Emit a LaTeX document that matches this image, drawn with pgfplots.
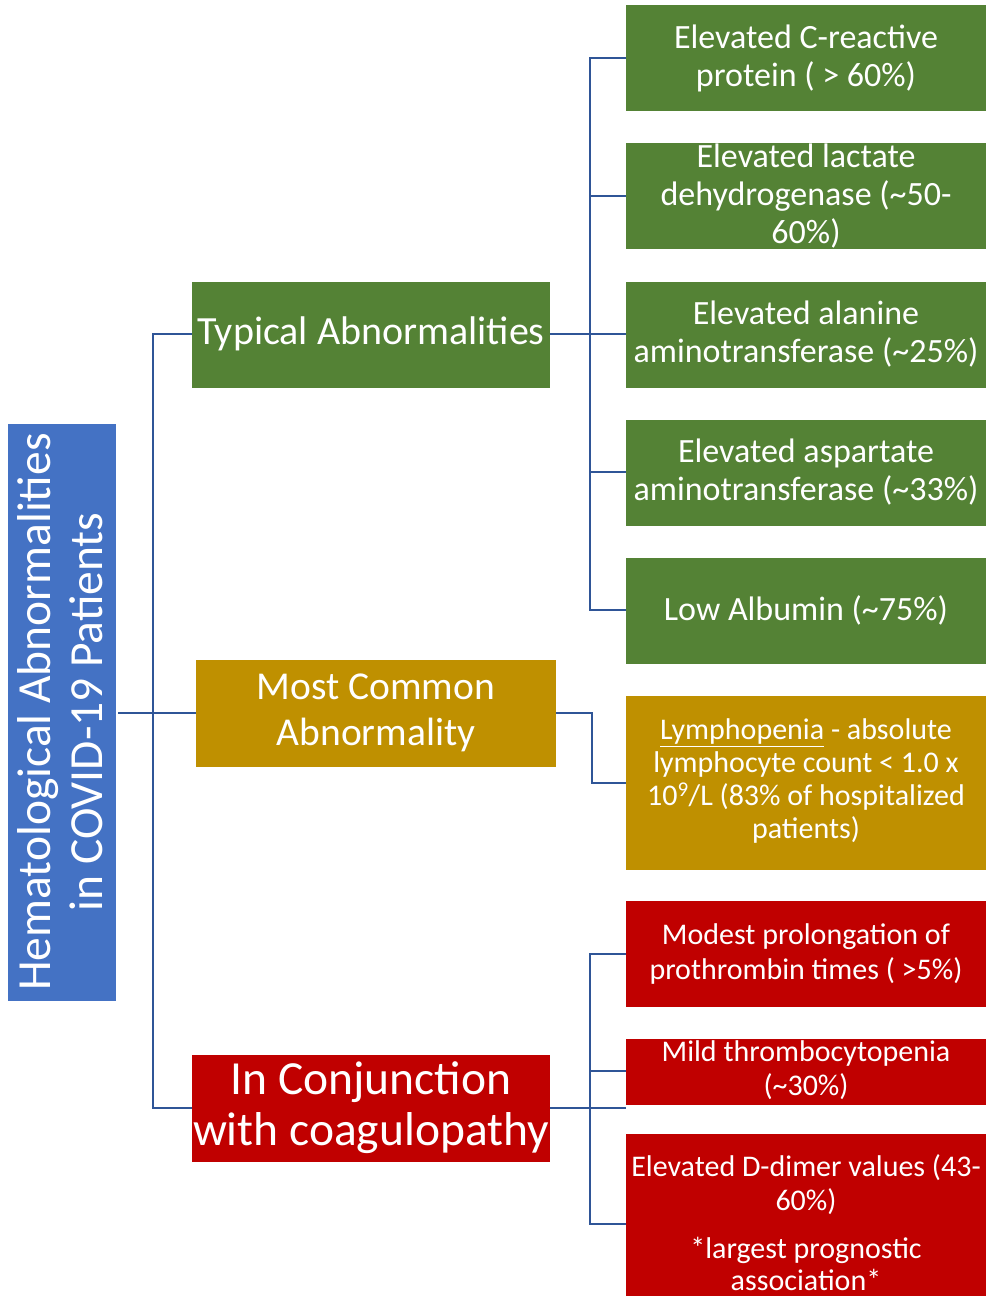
\documentclass[border=0pt]{standalone}
\usepackage{pgfplots}
\pgfplotsset{compat=1.18}
\usepackage{fontspec}
\setmainfont{Carlito}
\definecolor{tgreen}{HTML}{548235}
\definecolor{tgold}{HTML}{BF9000}
\definecolor{tred}{HTML}{C00000}
\definecolor{tblue}{HTML}{4472C4}
\definecolor{tline}{HTML}{2F5597}
\newcommand{\bx}[5]{\addplot[fill=#5, draw=none] coordinates {(#1,#2) (#3,#2) (#3,#4) (#1,#4)} -- cycle;}
\newcommand{\fs}[2]{\fontsize{#1}{#2}\selectfont}
\begin{document}
\begin{tikzpicture}
\begin{axis}[hide axis, scale only axis, width=990pt, height=1296pt,
  xmin=0, xmax=990, ymin=0, ymax=1296, y dir=reverse, clip=false]
% background
\bx{0}{0}{990}{1296}{white}
% connectors
\addplot[tline, line width=2pt] coordinates {(118,713) (196,713)};
\addplot[tline, line width=2pt] coordinates {(192,334) (153,334) (153,1108) (192,1108)};
\addplot[tline, line width=2pt] coordinates {(550,334) (626,334)};
\addplot[tline, line width=2pt] coordinates {(626,58) (590,58) (590,610) (626,610)};
\addplot[tline, line width=2pt] coordinates {(590,196) (626,196)};
\addplot[tline, line width=2pt] coordinates {(590,472) (626,472)};
\addplot[tline, line width=2pt] coordinates {(556,713) (592,713) (592,783) (626,783)};
\addplot[tline, line width=2pt] coordinates {(550,1108) (626,1108)};
\addplot[tline, line width=2pt] coordinates {(626,954) (590,954) (590,1224) (626,1224)};
\addplot[tline, line width=2pt] coordinates {(590,1071) (626,1071)};
% boxes
\bx{8}{424}{116}{1001}{tblue}
\bx{192}{282}{550}{388}{tgreen}
\bx{196}{660}{556}{767}{tgold}
\bx{192}{1055}{550}{1162}{tred}
\bx{626}{5}{986}{111}{tgreen}
\bx{626}{143}{986}{249}{tgreen}
\bx{626}{282}{986}{388}{tgreen}
\bx{626}{420}{986}{526}{tgreen}
\bx{626}{558}{986}{664}{tgreen}
\bx{626}{696}{986}{870}{tgold}
\bx{626}{901}{986}{1007}{tred}
\bx{626}{1039}{986}{1105}{tred}
\bx{626}{1134}{986}{1296}{tred}
% texts
\node[text=white, align=center, rotate=90, font=\fs{47.5}{52}] at (60,712) {Hematological Abnormalities\\in COVID-19 Patients};
\node[text=white, align=center, font=\fs{40}{44}] at (371,334) {Typical Abnormalities};
\node[text=white, align=center, font=\fs{39.5}{46}] at (376,713) {Most Common\\Abnormality};
\node[text=white, align=center, font=\fs{47.5}{51}] at (371,1108) {In Conjunction\\with coagulopathy};
\node[text=white, align=center, font=\fs{34}{38}] at (806,58) {Elevated C-reactive\\protein ( > 60\%)};
\node[text=white, align=center, font=\fs{34}{38}] at (806,196) {Elevated lactate\\dehydrogenase (\textasciitilde50-\\60\%)};
\node[text=white, align=center, font=\fs{34}{38}] at (806,334) {Elevated alanine\\aminotransferase (\textasciitilde25\%)};
\node[text=white, align=center, font=\fs{34}{38}] at (806,472) {Elevated aspartate\\aminotransferase (\textasciitilde33\%)};
\node[text=white, align=center, font=\fs{34}{38}] at (806,610) {Low Albumin (\textasciitilde75\%)};
\node[text=white, align=center, font=\fs{30}{33}] at (806,781) {\underline{Lymphopenia} - absolute\\lymphocyte count < 1.0 x\\10\textsuperscript{9}/L (83\% of hospitalized\\patients)};
\node[text=white, align=center, font=\fs{30}{35}] at (806,954) {Modest prolongation of\\prothrombin times ( >5\%)};
\node[text=white, align=center, font=\fs{30}{34}] at (806,1070) {Mild thrombocytopenia\\(\textasciitilde30\%)};
\node[text=white, align=center, font=\fs{30}{34}] at (806,1185) {Elevated D-dimer values (43-\\60\%)};
\node[text=white, align=center, font=\fs{30}{32}] at (806,1264) {*largest prognostic\\association*};
\end{axis}
\end{tikzpicture}
\end{document}
